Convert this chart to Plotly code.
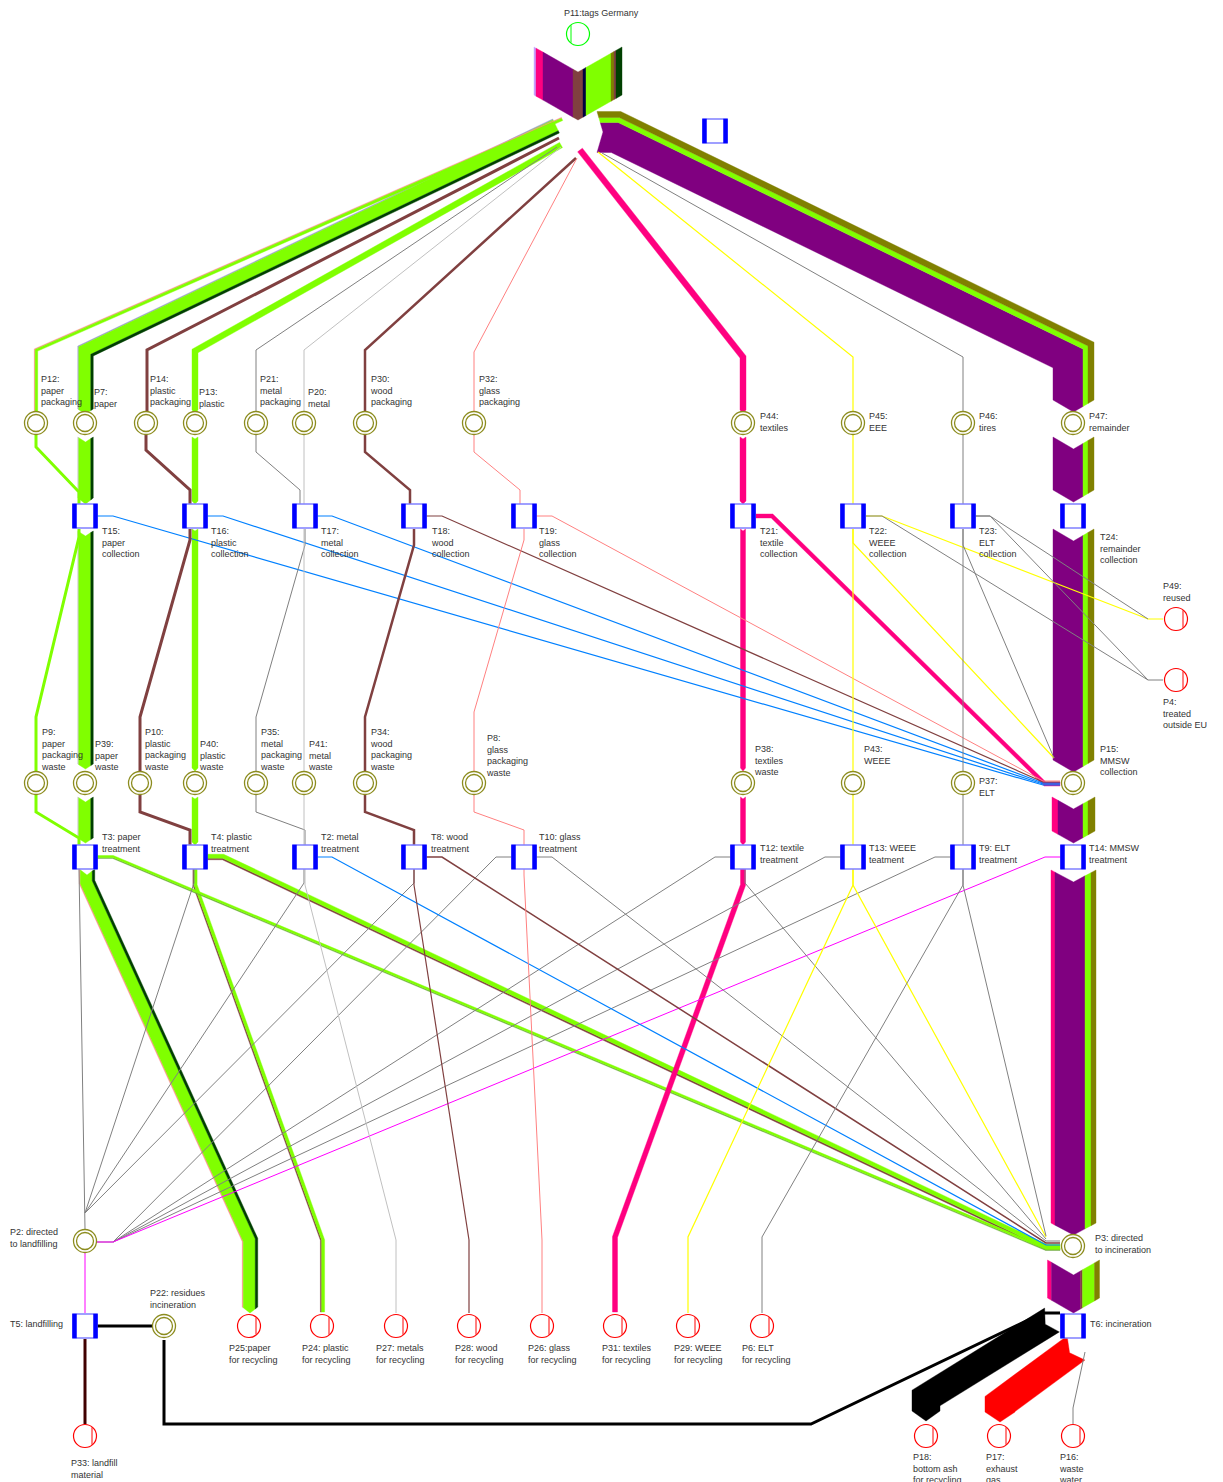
import numpy as np
import plotly.graph_objects as go

# ---------------- colours ----------------
G = '#80ff00'; DG = '#004000'; BR = '#804040'; GR = '#808080'; LG = '#c0c0c0'
SA = '#ff8080'; PK = '#ff0080'; YE = '#ffff00'; PU = '#800080'; OL = '#808000'
BL = '#0080ff'; MG = '#ff00ff'; BK = '#000000'; RD = '#ff0000'; DB = '#400000'
OLIVE_RING = '#8c8c1e'

# ---------------- nodes ----------------
circle_ids = ['P12', 'P7', 'P14', 'P13', 'P21', 'P20', 'P30', 'P32', 'P44', 'P45', 'P46', 'P47',
              'P9', 'P39', 'P10', 'P40', 'P35', 'P41', 'P34', 'P8', 'P38', 'P43', 'P37', 'P15',
              'P2', 'P3', 'P22']
circle_x = [36, 85, 146, 195, 256, 304, 365, 474, 743, 853, 963, 1073,
            36, 85, 140, 195, 256, 304, 365, 474, 743, 853, 963, 1073,
            85, 1073, 164]
circle_y = [423] * 12 + [783] * 12 + [1241, 1246, 1326]

sink_ids = ['P49', 'P4', 'P25', 'P24', 'P27', 'P28', 'P26', 'P31', 'P29', 'P6', 'P33', 'P18', 'P17', 'P16']
sink_x = [1176, 1176, 249, 322, 396, 469, 542, 615, 688, 762, 85, 926, 999, 1073]
sink_y = [619, 680, 1326, 1326, 1326, 1326, 1326, 1326, 1326, 1326, 1436, 1436, 1436, 1436]

import_ids = ['P11']
import_x = [578]
import_y = [34]

proc_ids = ['T15', 'T16', 'T17', 'T18', 'T19', 'T21', 'T22', 'T23', 'T24',
            'T3', 'T4', 'T2', 'T8', 'T10', 'T12', 'T13', 'T9', 'T14', 'T5', 'T6', '']
proc_x = [85, 195, 305, 414, 524, 743, 853, 963, 1073,
          85, 195, 305, 414, 524, 743, 853, 963, 1073, 85, 1073, 715]
proc_y = [516] * 9 + [857] * 9 + [1326, 1326, 131]

# ---------------- labels ----------------
label_text = [
    'P11:tags Germany',
    'P12:<br>paper<br>packaging', 'P7:<br>paper', 'P14:<br>plastic<br>packaging', 'P13:<br>plastic',
    'P21:<br>metal<br>packaging', 'P20:<br>metal', 'P30:<br>wood<br>packaging', 'P32:<br>glass<br>packaging',
    'P44:<br>textiles', 'P45:<br>EEE', 'P46:<br>tires', 'P47:<br>remainder',
    'T15:<br>paper<br>collection', 'T16:<br>plastic<br>collection', 'T17:<br>metal<br>collection',
    'T18:<br>wood<br>collection', 'T19:<br>glass<br>collection', 'T21:<br>textile<br>collection',
    'T22:<br>WEEE<br>collection', 'T23:<br>ELT<br>collection', 'T24:<br>remainder<br>collection',
    'P49:<br>reused', 'P4:<br>treated<br>outside EU',
    'P9:<br>paper<br>packaging<br>waste', 'P39:<br>paper<br>waste', 'P10:<br>plastic<br>packaging<br>waste',
    'P40:<br>plastic<br>waste', 'P35:<br>metal<br>packaging<br>waste', 'P41:<br>metal<br>waste',
    'P34:<br>wood<br>packaging<br>waste', 'P8:<br>glass<br>packaging<br>waste', 'P38:<br>textiles<br>waste',
    'P43:<br>WEEE', 'P37:<br>ELT', 'P15:<br>MMSW<br>collection',
    'T3: paper<br>treatment', 'T4: plastic<br>treatment', 'T2: metal<br>treatment', 'T8: wood<br>treatment',
    'T10: glass<br>treatment', 'T12: textile<br>treatment', 'T13: WEEE<br>teatment', 'T9: ELT<br>treatment',
    'T14: MMSW<br>treatment',
    'P2: directed<br>to landfilling', 'P3: directed<br>to incineration', 'T5: landfilling',
    'P22: residues<br>incineration', 'T6: incineration',
    'P25:paper<br>for recycling', 'P24: plastic<br>for recycling', 'P27: metals<br>for recycling',
    'P28: wood<br>for recycling', 'P26: glass<br>for recycling', 'P31: textiles<br>for recycling',
    'P29: WEEE<br>for recycling', 'P6: ELT<br>for recycling',
    'P33: landfill<br>material', 'P18:<br>bottom ash<br>for recycling', 'P17:<br>exhaust<br>gas',
    'P16:<br>waste<br>water',
]
label_x = [563,
           40, 93, 149, 198, 259, 307, 369, 478, 759, 868, 978, 1088,
           101, 210, 320, 430, 538, 759, 868, 978, 1099, 1162, 1162,
           40, 93, 143, 198, 259, 307, 369, 485, 753, 863, 978, 1099,
           101, 210, 320, 430, 538, 759, 868, 978, 1088,
           9, 1094, 9, 149, 1089,
           228, 301, 375, 454, 527, 601, 673, 741,
           70, 912, 985, 1058]
label_y = [13,
           379, 392, 379, 392, 379, 392, 379, 379, 416, 416, 416, 416,
           531, 531, 531, 531, 531, 531, 531, 531, 537, 586, 702,
           732, 744, 732, 744, 732, 744, 732, 738, 749, 749, 781, 749,
           837, 837, 837, 837, 837, 848, 848, 848, 848,
           1232, 1238, 1324, 1293, 1324,
           1348, 1348, 1348, 1348, 1348, 1348, 1348, 1348,
           1463, 1457, 1457, 1457]

# ---------------- wide flows (ribbons) ----------------
PAPER = [(LG, 1), (G, 12), (DG, 2.5)]
REMAINDER = [(PU, 30), (G, 5), (OL, 6)]
ribbon_paths = [
    [(578, 47), (578, 95)],                                   # import P11
    [(556, 126), (85.5, 351), (85.5, 409)],                   # -> P7
    [(562, 119), (36, 350), (36, 411)],                       # -> P12
    [(561, 145), (195, 351), (195, 410)],                     # -> P13
    [(580, 150), (743, 357), (743, 410)],                     # -> P44
    [(597, 132), (616, 132), (1073.5, 355), (1073.5, 400)],   # -> P47
    [(85.5, 437), (85.5, 498)],                               # P7 -> T15
    [(195, 437), (195, 501)],                                 # P13 -> T16
    [(743, 437), (743, 501)],                                 # P44 -> T21
    [(1073.5, 437), (1073.5, 490)],                           # P47 -> T24
    [(85.5, 531), (85.5, 764)],                               # T15 -> P39
    [(195, 529), (195, 768)],                                 # T16 -> P40
    [(743, 529), (743, 768)],                                 # T21 -> P38
    [(1073.5, 529), (1073.5, 760)],                           # T24 -> P15
    [(756, 516), (772, 516), (1045, 784), (1060, 784)],       # T21 -> P15
    [(85.5, 797), (85.5, 838)],                               # P39 -> T3
    [(195, 797), (195, 842)],                                 # P40 -> T4
    [(743, 797), (743, 842)],                                 # P38 -> T12
    [(1073.5, 797), (1073.5, 831)],                           # P15 -> T14
    [(1073.5, 870), (1073.5, 1223)],                          # T14 -> P3
    [(1073.5, 1260), (1073.5, 1298)],                         # P3 -> T6
    [(87, 869), (87, 882), (250, 1240), (250, 1307)],         # T3 -> P25
    [(195, 869), (195, 885), (322.5, 1240), (322.5, 1312)],   # T4 -> P24
    [(207, 857), (223, 857), (1046, 1247), (1060, 1247)],     # T4 -> P3
    [(97, 857), (113, 857), (1046, 1249), (1060, 1249)],      # T3 -> P3
    [(743, 869), (743, 885), (615, 1237), (615, 1312)],       # T12 -> P31
    [(1052, 1320), (926, 1398), (926, 1411)],                 # T6 -> P18
    [(1076, 1348), (1000, 1404), (1000, 1412)],               # T6 -> P17
]
ribbon_stripes = [
    [('#c8a0ff', 2), (PK, 7), (PU, 30), (BR, 10), ('#000040', 3), (G, 25), (OL, 3), (BR, 2), (DG, 6)],
    [('#a0a0d0', 1), (G, 12), (DG, 2.5)],
    [('#ff9090', 0.8), (G, 2.6)],
    [(G, 6)],
    [(PK, 6)],
    REMAINDER,
    PAPER,
    [(G, 6)],
    [(PK, 6)],
    REMAINDER,
    PAPER,
    [(G, 6)],
    [(PK, 5)],
    REMAINDER,
    [(PK, 4)],
    PAPER,
    [(G, 6)],
    [(PK, 5)],
    [(PK, 6), (PU, 25), (G, 5), (OL, 7)],
    [(PK, 4), (PU, 30), (G, 6), (OL, 5)],
    [(PK, 4), (PU, 29), (BR, 2), (G, 12), (OL, 5)],
    [('#ff9090', 1), (G, 12), (DG, 2.5)],
    [(BR, 1.2), (G, 3)],
    [(BR, 1.5), (G, 4)],
    [('#70b040', 1), (G, 2)],
    [(PK, 5)],
    [(BK, 28)],
    [(RD, 30)],
]
ribbon_caps = [
    (25, 25), (0, 5), (0, 0), (0, 3), (0, 3), (6, 12), (5, 6), (2, 3), (2, 3), (12, 12),
    (5, 5), (2, 3), (2, 3), (12, 12), (0, 0), (5, 5), (2, 3), (2, 3), (12, 12), (12, 12),
    (15, 15), (6, 6), (0, 0), (0, 0), (0, 0), (0, 0), (8, 10), (8, 10),
]

# ---------------- thin flows ----------------
line_color = []
line_width = []
line_path = []


def add(c, w, p):
    line_color.append(c); line_width.append(w); line_path.append(p)


# import -> first row
add(BR, 3, [(559, 138), (147, 350), (147, 411)])
add(GR, 1, [(557, 147), (256, 350), (256, 411)])
add(LG, 1, [(561, 147), (304, 350), (304, 411)])
add(BR, 2.5, [(576, 158), (365, 350), (365, 411)])
add(SA, 1, [(577, 158), (474, 352), (474, 411)])
add(YE, 1.2, [(598, 152), (853, 357), (853, 411)])
add(GR, 1, [(602, 153), (963, 357), (963, 411)])
# first row -> collection
add(G, 3, [(36, 435), (36, 447), (79, 492), (79, 504)])
add(BR, 3, [(146, 435), (146, 450), (190, 490), (190, 504)])
add(GR, 1, [(256, 435), (256, 452), (300, 490), (300, 504)])
add(LG, 1, [(304, 435), (304, 504)])
add(BR, 2.5, [(365, 435), (365, 452), (410, 490), (410, 504)])
add(SA, 1, [(474, 435), (474, 452), (520, 490), (520, 504)])
add(YE, 1.2, [(853, 435), (853, 504)])
add(GR, 1, [(963, 435), (963, 504)])
# collection -> second row
add(G, 3, [(79, 529), (79, 537), (36, 717), (36, 771)])
add(BL, 1.2, [(97, 516), (113, 516), (1043, 785), (1060, 785)])
add(BR, 3, [(190, 529), (190, 540), (140, 717), (140, 771)])
add(BL, 1.2, [(207, 516), (223, 516), (1043, 784), (1060, 784)])
add(GR, 1, [(305, 529), (305, 545), (256, 717), (256, 771)])
add(LG, 1, [(304, 529), (304, 771)])
add(BL, 1.2, [(317, 516), (332, 516), (1043, 783), (1060, 783)])
add(BR, 2.5, [(414, 529), (414, 545), (365, 717), (365, 771)])
add(BR, 1.2, [(426, 516), (442, 516), (1043, 782), (1060, 782)])
add(SA, 1, [(524, 529), (524, 540), (474, 712), (474, 771)])
add(SA, 1, [(536, 516), (552, 516), (1043, 781), (1060, 781)])
add(YE, 1.2, [(853, 529), (853, 771)])
add(YE, 1.2, [(853, 529), (853, 543), (1054, 758)])
add(YE, 1.2, [(866, 516), (882, 516), (1148, 619), (1163, 619)])
add(GR, 1, [(866, 516), (882, 516), (1148, 680), (1163, 680)])
add(GR, 1, [(963, 529), (963, 771)])
add(GR, 1, [(963, 529), (963, 545), (1054, 758)])
add(GR, 1, [(975, 516), (990, 516), (1148, 619)])
add(GR, 1, [(975, 516), (990, 516), (1148, 680)])
# second row -> treatment
add(G, 3, [(36, 795), (36, 812), (79, 838), (79, 845)])
add(BR, 3, [(140, 795), (140, 812), (190, 830), (190, 845)])
add(GR, 1, [(256, 795), (256, 812), (305, 830), (305, 845)])
add(LG, 1, [(304, 795), (304, 845)])
add(BR, 2.5, [(365, 795), (365, 812), (414, 830), (414, 845)])
add(SA, 1, [(474, 795), (474, 812), (524, 830), (524, 845)])
add(YE, 1.2, [(853, 795), (853, 845)])
add(GR, 1, [(963, 795), (963, 845)])
# treatment -> landfill / incineration / recycling
add(GR, 1, [(79, 869), (85, 1213), (85, 1229)])
add(GR, 1, [(194, 869), (194, 883), (85, 1213)])
add(GR, 1, [(304, 869), (304, 883), (85, 1213)])
add(GR, 1, [(414, 869), (414, 883), (85, 1213)])
add(GR, 1, [(512, 857), (496, 857), (113, 1242), (97, 1242)])
add(GR, 1, [(731, 857), (715, 857), (113, 1242)])
add(GR, 1, [(841, 857), (825, 857), (113, 1242)])
add(GR, 1, [(951, 857), (935, 857), (113, 1242)])
add(MG, 1, [(1061, 857), (1045, 857), (113, 1242), (97, 1242)])
add(LG, 1, [(305, 869), (305, 885), (396, 1240), (396, 1313)])
add(BL, 1.2, [(317, 857), (332, 857), (1046, 1245), (1060, 1245)])
add(BR, 1.2, [(414, 869), (414, 885), (469, 1240), (469, 1313)])
add(BR, 1.5, [(426, 857), (442, 857), (1046, 1243), (1060, 1243)])
add(SA, 1, [(524, 869), (524, 875), (542, 1240), (542, 1313)])
add(GR, 1, [(536, 857), (552, 857), (1046, 1241), (1060, 1241)])
add(GR, 1, [(745, 869), (745, 883), (1046, 1239)])
add(YE, 1.2, [(853, 869), (853, 885), (688, 1237), (688, 1313)])
add(YE, 1.2, [(853, 869), (853, 885), (1046, 1237)])
add(GR, 1, [(963, 869), (963, 885), (762, 1237), (762, 1313)])
add(GR, 1, [(963, 869), (963, 885), (1046, 1236)])
add(MG, 1, [(85, 1253), (85, 1313)])
add(DB, 3, [(85, 1339), (85, 1424)])
add(BK, 3, [(152, 1326), (97, 1326)])
add(BK, 3, [(1060, 1313), (1043, 1313), (811, 1424), (164, 1424), (164, 1340)])
add(GR, 1, [(1085, 1352), (1073, 1408), (1073, 1424)])


# ---------------- geometry helpers ----------------
def unit(v):
    return v / np.hypot(v[0], v[1])


def offset_line(P, d):
    n_pts = len(P)
    segs = [unit(P[i + 1] - P[i]) for i in range(n_pts - 1)]
    nrm = [np.array([u[1], -u[0]]) for u in segs]
    out = np.zeros_like(P)
    out[0] = P[0] + d * nrm[0]
    out[-1] = P[-1] + d * nrm[-1]
    for i in range(1, n_pts - 1):
        m = unit(nrm[i - 1] + nrm[i])
        out[i] = P[i] + m * d / np.dot(m, nrm[i - 1])
    return out


def ribbon_polys(path, stripes, c0, c1):
    P = np.asarray(path, float)
    total = sum(w for _, w in stripes)
    hw = total / 2.0
    u0 = unit(P[1] - P[0]); u1 = unit(P[-1] - P[-2])

    def line_at(d):
        L = offset_line(P, d).copy()
        f = 1 - abs(d) / hw
        L[0] = L[0] + u0 * c0 * f
        L[-1] = L[-1] + u1 * c1 * f
        return L

    polys = []
    d = -hw
    for col, w in stripes:
        d1, d2 = d, d + w
        A = line_at(d1); B = line_at(d2)
        pts = list(A)
        if d1 < 0 < d2:
            pts.append(line_at(0)[-1])
        pts += list(B[::-1])
        if d1 < 0 < d2:
            pts.append(line_at(0)[0])
        pts.append(A[0])
        polys.append((col, np.array(pts)))
        d = d2
    return polys


fig = go.Figure()

# ribbons
for path, stripes, (c0, c1) in zip(ribbon_paths, ribbon_stripes, ribbon_caps):
    for col, poly in ribbon_polys(path, stripes, c0, c1):
        fig.add_trace(go.Scatter(x=poly[:, 0], y=poly[:, 1], mode='lines', fill='toself',
                                 fillcolor=col, line=dict(color=col, width=0.4),
                                 hoverinfo='skip', showlegend=False))

# thin flows
for c, w, p in zip(line_color, line_width, line_path):
    p = np.asarray(p, float)
    fig.add_trace(go.Scatter(x=p[:, 0], y=p[:, 1], mode='lines',
                             line=dict(color=c, width=w), hoverinfo='skip', showlegend=False))

# olive (intermediate) nodes: double ring
fig.add_trace(go.Scatter(x=circle_x, y=circle_y, mode='markers', hoverinfo='skip', showlegend=False,
                         marker=dict(symbol='circle', size=23, color='white',
                                     line=dict(color=OLIVE_RING, width=1.3))))
fig.add_trace(go.Scatter(x=circle_x, y=circle_y, mode='markers', hoverinfo='skip', showlegend=False,
                         marker=dict(symbol='circle-open', size=17, color=OLIVE_RING,
                                     line=dict(color=OLIVE_RING, width=1.3))))

# sink nodes (red) and import node (green)
fig.add_trace(go.Scatter(x=sink_x, y=sink_y, mode='markers', hoverinfo='skip', showlegend=False,
                         marker=dict(symbol='circle', size=23, color='white',
                                     line=dict(color=RD, width=1.2))))
fig.add_trace(go.Scatter(x=[x + 7 for x in sink_x], y=sink_y, mode='markers', hoverinfo='skip',
                         showlegend=False,
                         marker=dict(symbol='line-ns', size=12.5, color=RD, line=dict(color=RD, width=1))))
fig.add_trace(go.Scatter(x=import_x, y=import_y, mode='markers', hoverinfo='skip', showlegend=False,
                         marker=dict(symbol='circle', size=23, color='white',
                                     line=dict(color='#00ff00', width=1.2))))
fig.add_trace(go.Scatter(x=[x - 7 for x in import_x], y=import_y, mode='markers', hoverinfo='skip',
                         showlegend=False,
                         marker=dict(symbol='line-ns', size=12.5, color='#00ff00',
                                     line=dict(color='#00ff00', width=1))))

# process nodes (blue squares)
fig.add_trace(go.Scatter(x=proc_x, y=proc_y, mode='markers', hoverinfo='skip', showlegend=False,
                         marker=dict(symbol='square', size=24, color='white',
                                     line=dict(color='#8080ff', width=1.5))))
for side in (-10.5, 10.5):
    fig.add_trace(go.Scatter(x=[x + side for x in proc_x], y=proc_y, mode='markers', hoverinfo='skip',
                             showlegend=False,
                             marker=dict(symbol='line-ns', size=17.5, color='#0000ff',
                                         line=dict(color='#0000ff', width=4.5))))

# labels
for t, x, y in zip(label_text, label_x, label_y):
    fig.add_annotation(x=x, y=y - 6, text=t, showarrow=False, xanchor='left', yanchor='top',
                       align='left', font=dict(family='Liberation Sans, Arial', size=9, color='#333333'),
                       borderpad=0)

fig.update_layout(
    width=1223, height=1482,
    margin=dict(l=0, r=0, t=0, b=0),
    paper_bgcolor='white', plot_bgcolor='white',
    showlegend=False,
    xaxis=dict(range=[0, 1223], visible=False, fixedrange=True),
    yaxis=dict(range=[1482, 0], visible=False, fixedrange=True),
)

fig.write_html("out.html", config={'displayModeBar': False},
               post_script="document.body.style.margin='0px';document.body.style.overflow='hidden';")
